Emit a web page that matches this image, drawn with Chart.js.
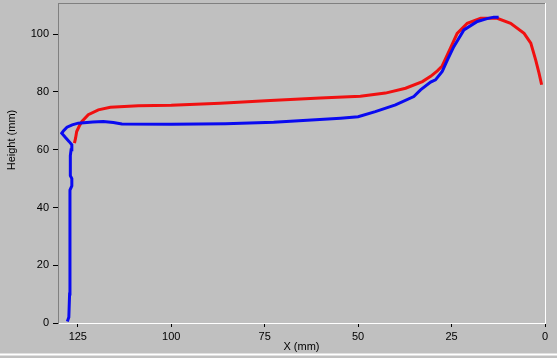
<!DOCTYPE html>
<html>
<head>
<meta charset="utf-8">
<script src="https://cdn.jsdelivr.net/npm/chart.js@4/dist/chart.umd.min.js"></script>
<style>
  html, body { margin: 0; padding: 0; background: #c0c0c0; overflow: hidden; }
  #wrap { width: 557px; height: 358px; position: relative; }
</style>
</head>
<body>
<div id="wrap"><canvas id="c" width="557" height="358"></canvas></div>
<script>
// Series 1 (blue)
const blueX = [127.8,127.4,127.2,127.1,127.1,126.6,126.6,127.0,127.0,126.8,126.6,127.3,128.3,129.3,128.8,127.9,126.5,124.9,121.0,118.2,115.5,113.2,100.0,85.5,72.6,63.6,54.7,50.0,45.4,40.0,35.1,33.3,30.6,29.3,27.5,26.1,24.4,21.7,18.1,15.5,13.7,12.4];
const blueY = [0.5,2,10,30,46,47.5,50,51,58,60,61.7,62.8,64.2,65.7,66.6,67.8,68.6,69.2,69.6,69.8,69.4,68.9,68.8,69.0,69.5,70.2,70.9,71.4,73.2,75.5,78.4,80.7,83.4,84.2,87.1,91.1,95.7,101.5,104.4,105.4,105.9,105.9];
// Series 2 (red)
const redX = [125.9,125.6,125.3,124.6,123.9,122.2,119.5,116.3,108.8,100.0,86.9,73.5,60.1,49.4,42.7,37.3,32.8,30.6,28.8,27.5,25.3,23.5,20.8,17.2,12.8,9.2,5.6,3.8,2.5,1.6,0.9];
const redY = [62.3,64.0,66.3,68.2,69.8,72.1,73.8,74.7,75.2,75.4,76.1,77.0,77.9,78.5,79.6,81.3,83.6,85.4,87.3,89.0,95.2,100.3,103.8,105.5,105.5,103.8,100.3,96.9,91.1,86.5,82.5];
// Tick labels
const xTickValues = [125,100,75,50,25,0];
const yTickValues = [0,20,40,60,80,100];
const xTitle = 'X (mm)';
const yTitle = 'Height (mm)';

const toPts = (xs, ys) => xs.map((x, i) => ({x: x, y: ys[i]}));

const FONT = {family: '"Liberation Sans", Arial, sans-serif', size: 11};

const frame = {
  id: 'frame',
  beforeDraw(chart) {
    const ctx = chart.ctx;
    ctx.save();
    ctx.fillStyle = '#c0c0c0';
    ctx.fillRect(0, 0, chart.width, chart.height);
    ctx.restore();
  },
  afterDraw(chart) {
    const ctx = chart.ctx, a = chart.chartArea;
    ctx.save();
    ctx.lineWidth = 1;
    ctx.strokeStyle = '#808080';
    ctx.beginPath(); ctx.moveTo(a.left, a.top + 0.5); ctx.lineTo(a.right, a.top + 0.5); ctx.stroke();
    ctx.strokeStyle = '#ffffff';
    ctx.beginPath(); ctx.moveTo(a.right + 0.5, a.top); ctx.lineTo(a.right + 0.5, a.bottom); ctx.stroke();
    ctx.beginPath(); ctx.moveTo(0, 354.5); ctx.lineTo(chart.width, 354.5); ctx.lineWidth = 2; ctx.stroke();
    ctx.fillStyle = '#000';
    ctx.font = '11px "Liberation Sans", Arial, sans-serif';
    ctx.textAlign = 'center';
    ctx.textBaseline = 'middle';
    ctx.fillText(xTitle, (a.left + a.right) / 2, 347);
    ctx.translate(12, 140);
    ctx.rotate(-Math.PI / 2);
    ctx.fillText(yTitle, 0, 0);
    ctx.restore();
  }
};

new Chart(document.getElementById('c'), {
  type: 'scatter',
  data: {
    datasets: [
      { data: toPts(blueX, blueY), showLine: true, borderColor: '#0a0af0', backgroundColor: '#0a0af0', borderWidth: 3, pointRadius: 0, tension: 0 },
      { data: toPts(redX, redY), showLine: true, borderColor: '#f01010', backgroundColor: '#f01010', borderWidth: 3, pointRadius: 0, tension: 0 }
    ]
  },
  options: {
    responsive: false,
    animation: false,
    devicePixelRatio: 1,
    layout: { padding: { left: 0, top: 3, right: 12, bottom: 0 } },
    plugins: { legend: { display: false }, tooltip: { enabled: false } },
    scales: {
      x: {
        type: 'linear', reverse: true, min: 0, max: 130.3,
        afterFit: s => { s.height = 35; s.paddingLeft = 0; s.paddingRight = 0; },
        afterBuildTicks: s => { s.ticks = xTickValues.map(v => ({value: v})); },
        grid: { drawOnChartArea: false, drawTicks: true, tickLength: 4, tickColor: '#000' },
        border: { display: true, color: '#ffffff', width: 1 },
        ticks: { color: '#000', font: FONT, padding: 3, maxRotation: 0, autoSkip: false }
      },
      y: {
        type: 'linear', min: 0, max: 110.8,
        afterFit: s => { s.width = 58; s.paddingTop = 0; s.paddingBottom = 0; },
        afterBuildTicks: s => { s.ticks = yTickValues.map(v => ({value: v})); },
        grid: { drawOnChartArea: false, drawTicks: true, tickLength: 5, tickColor: '#000' },
        border: { display: true, color: '#808080', width: 1 },
        ticks: { color: '#000', font: FONT, padding: 4 }
      }
    }
  },
  plugins: [frame]
});
</script>
</body>
</html>
